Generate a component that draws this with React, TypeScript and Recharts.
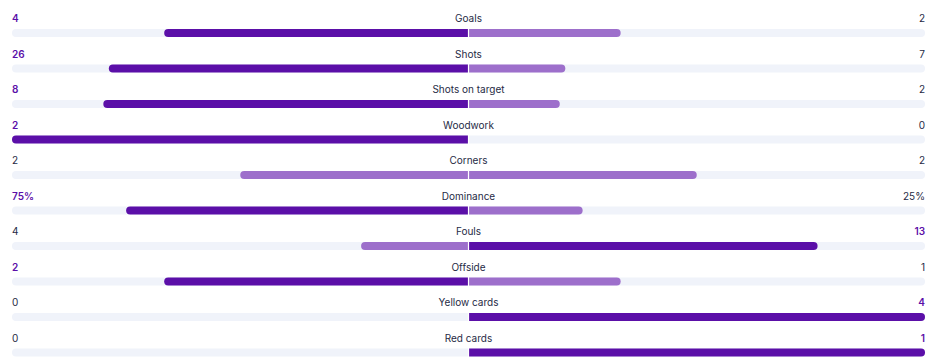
import React from "react";
import { ComposedChart, Bar, XAxis, YAxis, Cell, LabelList, ReferenceLine } from "recharts";

const categories = ["Goals", "Shots", "Shots on target", "Woodwork", "Corners", "Dominance", "Fouls", "Offside", "Yellow cards", "Red cards"];
const homeValues = [4, 26, 8, 2, 2, 75, 4, 2, 0, 0];
const awayValues = [2, 7, 2, 0, 2, 25, 13, 1, 4, 1];
const units = ["", "", "", "", "", "%", "", "", "", ""];

const DARK = "#5b0fa8";
const LIGHT = "#9d6fcb";
const TRACK = "#f0f3fa";
const TEXT = "#262a45";
const FONT = "Inter, 'Noto Sans', sans-serif";

const data = categories.map((name, i) => {
  const h = homeValues[i];
  const a = awayValues[i];
  const total = h + a;
  return {
    name,
    home: h,
    away: a,
    unit: units[i],
    leftShare: total > 0 ? h / total : 0,
    rightShare: total > 0 ? a / total : 0,
  };
});

const renderLeftText = (props: any) => {
  const vb = props.viewBox ?? props;
  const x = vb.x ?? props.x;
  const y = vb.y ?? props.y;
  const width = vb.width ?? props.width;
  const i = props.index;
  const d = data[i];
  const win = d.home > d.away;
  return (
    <g>
      <text x={x} y={y - 7} textAnchor="start" fontFamily={FONT} fontSize={10} fontWeight={win ? 600 : 400} fill={win ? DARK : TEXT}>
        {`${d.home}${d.unit}`}
      </text>
      <text x={x + width} y={y - 7} textAnchor="middle" fontFamily={FONT} fontSize={10} fill={TEXT}>
        {d.name}
      </text>
    </g>
  );
};

const renderRightText = (props: any) => {
  const vb = props.viewBox ?? props;
  const x = vb.x ?? props.x;
  const y = vb.y ?? props.y;
  const width = vb.width ?? props.width;
  const i = props.index;
  const d = data[i];
  const win = d.away > d.home;
  return (
    <text x={x + width} y={y - 7} textAnchor="end" fontFamily={FONT} fontSize={10} fontWeight={win ? 600 : 400} fill={win ? DARK : TEXT}>
      {`${d.away}${d.unit}`}
    </text>
  );
};

export default function App() {
  return (
    <div style={{ position: "fixed", left: 0, top: 0, width: 938, height: 363, overflow: "hidden", background: "#fff" }}>
      <ComposedChart
        width={938}
        height={370}
        data={data}
        layout="vertical"
        margin={{ top: 15, right: 13, bottom: 0, left: 12 }}
        barSize={8}
        barGap={-8}
        barCategoryGap={0}
      >
        <XAxis type="number" domain={[-1, 1]} hide />
        <YAxis type="category" dataKey="name" hide width={0} />
        <Bar dataKey={() => [-1, 0]} fill={TRACK} radius={[4, 0, 0, 4]} isAnimationActive={false}>
          <LabelList content={renderLeftText} />
        </Bar>
        <Bar dataKey={() => [0, 1]} fill={TRACK} radius={[0, 4, 4, 0]} isAnimationActive={false}>
          <LabelList content={renderRightText} />
        </Bar>
        <Bar dataKey={(d: any) => [-d.leftShare, 0]} radius={[4, 0, 0, 4]} isAnimationActive={false}>
          {data.map((d, i) => (
            <Cell key={i} fill={d.home > d.away ? DARK : LIGHT} />
          ))}
        </Bar>
        <Bar dataKey={(d: any) => [0, d.rightShare]} radius={[0, 4, 4, 0]} isAnimationActive={false}>
          {data.map((d, i) => (
            <Cell key={i} fill={d.away > d.home ? DARK : LIGHT} />
          ))}
        </Bar>
        <ReferenceLine x={0} stroke="#ffffff" strokeWidth={1.2} />
      </ComposedChart>
    </div>
  );
}
